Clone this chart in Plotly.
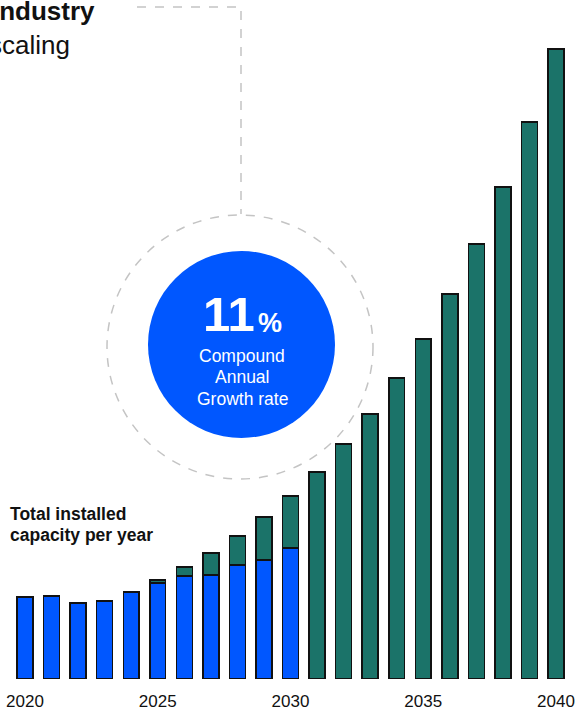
import plotly.graph_objects as go

years = list(range(2020, 2041))
blue_vals = [82, 83, 76, 78, 87, 96, 103, 104, 114, 119, 131,
             None, None, None, None, None, None, None, None, None, None]
teal_vals = [None, None, None, None, None, 3, 9, 22, 29, 43, 52,
             207, 235, 265, 301, 340, 385, 435, 492, 557, 630]
tick_years = [2020, 2025, 2030, 2035, 2040]

BLUE = "#0057FF"
TEAL = "#1B7369"
W, H = 577, 714
MB = 35
PH = H - MB


def px(x):
    return x / W


def py(y):
    return (PH - y) / PH


fig = go.Figure()
# faint shadow under each bar
fig.add_trace(go.Scatter(x=years, y=[-2] * len(years), mode="markers",
                         marker=dict(symbol="line-ew", size=17,
                                     line=dict(color="#CFCFCF", width=2)),
                         cliponaxis=False, hoverinfo="skip", showlegend=False))
fig.add_trace(go.Bar(x=years, y=blue_vals, name="current", marker_color=BLUE,
                     marker_line=dict(color="#111111", width=1.5), width=0.6))
fig.add_trace(go.Bar(x=years, y=teal_vals, name="projected", marker_color=TEAL,
                     marker_line=dict(color="#111111", width=1.5), width=0.6))

fig.update_layout(
    barmode="stack",
    width=W, height=H,
    margin=dict(l=0, r=0, t=0, b=MB),
    paper_bgcolor="white", plot_bgcolor="white",
    showlegend=False,
    font=dict(family="Liberation Sans, Arial, sans-serif", color="#111111"),
    xaxis=dict(range=[2019.058, 2040.79], tickvals=tick_years,
               ticktext=[str(t) for t in tick_years], showgrid=False,
               zeroline=False, showline=False, ticks="", ticklabelstandoff=10,
               tickfont=dict(size=17, color="#111111")),
    yaxis=dict(range=[0, PH], visible=False, showgrid=False),
)

shapes = []
shapes.append(dict(type="circle", xref="paper", yref="paper",
                   x0=px(107), x1=px(373), y0=py(479), y1=py(215),
                   line=dict(color="#C4C4C4", width=1.5, dash="dash"), layer="below"))
shapes.append(dict(type="circle", xref="paper", yref="paper",
                   x0=px(148), x1=px(335), y0=py(438), y1=py(251),
                   fillcolor=BLUE, line=dict(color=BLUE, width=0)))
shapes.append(dict(type="path", xref="paper", yref="paper",
                   path=f"M {px(137)} {py(7)} L {px(241)} {py(7)} L {px(241)} {py(214)}",
                   line=dict(color="#C4C4C4", width=1.5, dash="dash")))
fig.update_layout(shapes=shapes)


def text(t, x, y, size, color="#111111", xanchor="center"):
    return dict(text=t, xref="paper", yref="paper", x=px(x), y=py(y),
                xanchor=xanchor, yanchor="middle", showarrow=False,
                font=dict(size=size, color=color))


ann = [
    text("<b>Industry</b>", 97, 11, 26, xanchor="right"),
    text("scaling", 72, 45, 26, xanchor="right"),
    text("<b>11</b>", 229.5, 314, 49, color="white"),
    text("<b>%</b>", 270, 323, 27, color="white"),
    text("Compound", 242, 356, 17.5, color="white"),
    text("Annual", 242, 377, 17.5, color="white"),
    text("Growth rate", 242, 399, 17.5, color="white"),
    text("<b>Total installed</b>", 8, 514, 17.5, xanchor="left"),
    text("<b>capacity per year</b>", 8, 535, 17.5, xanchor="left"),
]
fig.update_layout(annotations=ann)

fig.write_html("out.html", config={"displayModeBar": False},
               post_script="document.body.style.margin='0';")
